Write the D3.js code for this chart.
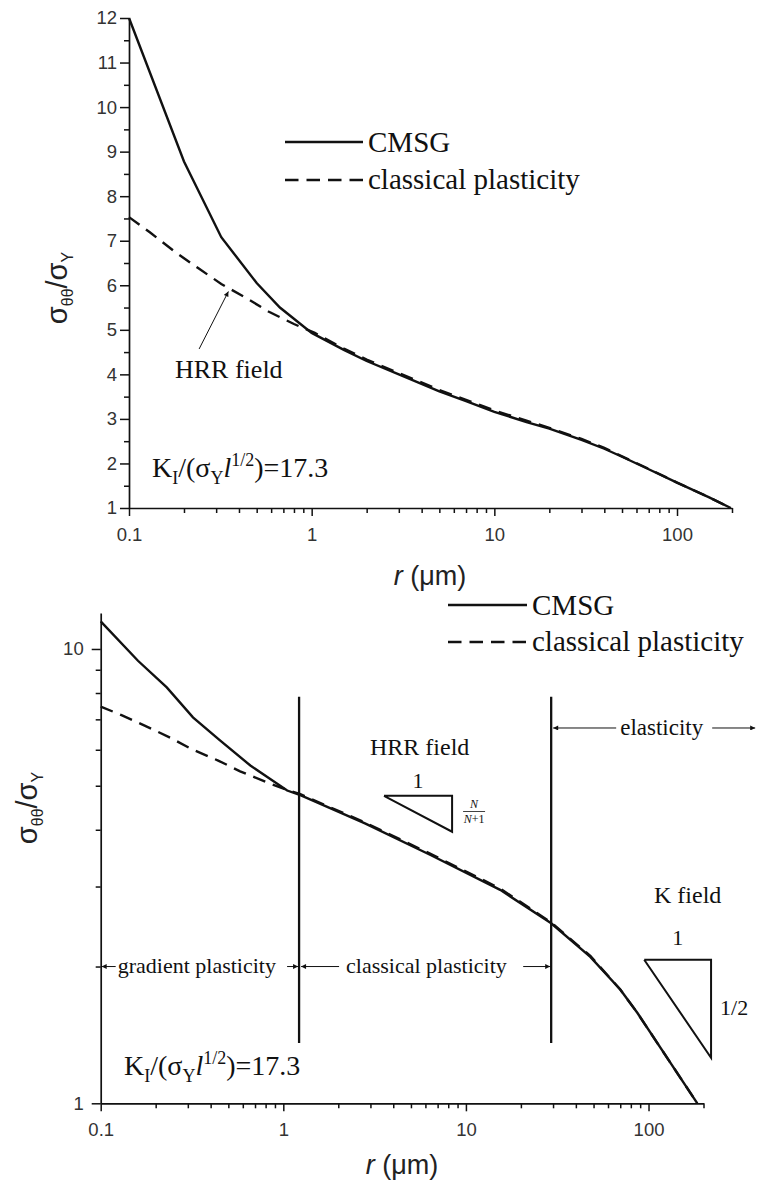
<!DOCTYPE html>
<html>
<head>
<meta charset="utf-8">
<script src="https://cdn.jsdelivr.net/npm/d3@7"></script>
<style>
  html, body { margin: 0; padding: 0; background: #fff; }
  svg { display: block; }
  .tick text { font-family: "Liberation Sans", Arial, sans-serif; font-size: 18.5px; fill: #333; }
  .serif { font-family: "Liberation Serif", "Times New Roman", serif; fill: #111; }
</style>
</head>
<body>
<svg id="chart" width="757" height="1187"></svg>
<script>
// ---- Upper panel: linear stress axis ----
const topCmsgR   = [0.1, 0.2, 0.32, 0.5, 0.67, 1, 1.5, 2, 3, 5, 7, 10, 15, 20, 30, 40, 50, 70, 100, 150, 197];
const topCmsg    = [12.0, 8.78, 7.08, 6.05, 5.5, 4.93, 4.55, 4.3, 4.0, 3.62, 3.4, 3.16, 2.93, 2.78, 2.53, 2.33, 2.15, 1.87, 1.57, 1.24, 1.0];
const topClassR  = [0.1, 0.13, 0.18, 0.24, 0.32, 0.44, 0.58, 0.8, 1.04, 1.5, 2, 3, 5, 7, 10, 15, 20, 30, 40, 50, 70, 100, 150, 197];
const topClass   = [7.53, 7.19, 6.74, 6.38, 6.03, 5.71, 5.41, 5.13, 4.93, 4.58, 4.33, 4.03, 3.65, 3.43, 3.19, 2.96, 2.8, 2.55, 2.35, 2.16, 1.88, 1.57, 1.24, 1.0];

// ---- Lower panel: log-log ----
const botCmsgR   = [0.1, 0.16, 0.23, 0.32, 0.45, 0.66, 1.05, 1.24, 2.8, 6.4, 15.4, 29.3, 48, 70, 87, 185];
const botCmsg    = [11.5, 9.42, 8.23, 7.07, 6.29, 5.54, 4.88, 4.77, 4.13, 3.52, 2.95, 2.49, 2.1, 1.78, 1.58, 1.0];
const botClassR  = [0.1, 0.13, 0.18, 0.24, 0.32, 0.44, 0.58, 0.8, 1.04, 1.24, 2.8, 6.4, 15.4, 29.3, 48, 70, 87, 185];
const botClass   = [7.47, 7.15, 6.74, 6.38, 6.0, 5.68, 5.38, 5.1, 4.9, 4.79, 4.15, 3.54, 2.97, 2.5, 2.11, 1.78, 1.58, 1.0];

// region boundaries (μm) and the stress span of the boundary lines
const zoneBounds = [1.22, 29.3];
const zoneLineSpan = [1.357, 7.85];

const xMajor = [0.1, 1, 10, 100];
const xMajorLabels = ["0.1", "1", "10", "100"];
const xMinor = [0.2,0.3,0.4,0.5,0.6,0.7,0.8,0.9, 2,3,4,5,6,7,8,9, 20,30,40,50,60,70,80,90, 200];
const topYMajor = [1,2,3,4,5,6,7,8,9,10,11,12];
const topYMinor = [1.5,2.5,3.5,4.5,5.5,6.5,7.5,8.5,9.5,10.5,11.5];
const botYMajor = [1, 10];
const botYMinor = [2,3,4,5,6,7,8,9];

const svg = d3.select("#chart");
const defs = svg.append("defs");
defs.append("marker")
  .attr("id", "arrow").attr("viewBox", "0 0 10 10")
  .attr("refX", 10).attr("refY", 5)
  .attr("markerWidth", 7).attr("markerHeight", 5)
  .attr("markerUnits", "userSpaceOnUse")
  .attr("orient", "auto")
  .append("path").attr("d", "M0,0 L10,5 L0,10 Z").attr("fill", "#111");

function drawAxes(g, x, y, yMajor, yMajorFmt, yMinor, yPad) {
  const x0 = x.range()[0], y0 = y.range()[0];
  g.append("g").attr("transform", `translate(0,${y0})`)
    .call(d3.axisBottom(x).tickValues(xMajor).tickSize(8).tickPadding(12)
      .tickFormat((d, i) => xMajorLabels[i]).tickSizeOuter(0));
  g.append("g").attr("transform", `translate(0,${y0})`)
    .call(d3.axisBottom(x).tickValues(xMinor).tickSize(5).tickFormat("").tickSizeOuter(0))
    .select(".domain").remove();
  g.append("g").attr("transform", `translate(${x0},0)`)
    .call(d3.axisLeft(y).tickValues(yMajor).tickSize(9).tickPadding(yPad)
      .tickFormat(yMajorFmt).tickSizeOuter(0));
  g.append("g").attr("transform", `translate(${x0},0)`)
    .call(d3.axisLeft(y).tickValues(yMinor).tickSize(5).tickFormat("").tickSizeOuter(0))
    .select(".domain").remove();
  g.selectAll(".domain").attr("stroke", "#111").attr("stroke-width", 1.7);
  g.selectAll(".tick line").attr("stroke", "#111").attr("stroke-width", 1.5);
}

function drawSeries(g, x, y, rs, vs, dashed) {
  const line = d3.line().x(d => x(d[0])).y(d => y(d[1]));
  g.append("path")
    .datum(rs.map((r, i) => [r, vs[i]]))
    .attr("d", line)
    .attr("fill", "none")
    .attr("stroke", "#111")
    .attr("stroke-width", 2.4)
    .attr("stroke-dasharray", dashed ? "13,8" : null);
}

function yLabel(g, cx, cy) {
  const t = g.append("text")
    .attr("transform", `translate(${cx},${cy}) rotate(-90)`)
    .attr("text-anchor", "middle")
    .style("font-family", "'Liberation Sans', Arial, sans-serif")
    .style("font-size", "29px").attr("fill", "#222");
  t.append("tspan").text("σ");
  t.append("tspan").attr("dy", 6).style("font-size", "16px").text("θθ");
  t.append("tspan").attr("dy", -6).text("/σ");
  t.append("tspan").attr("dy", 6).style("font-size", "16px").text("Y");
}

function xLabel(g, cx, by) {
  const t = g.append("text").attr("x", cx).attr("y", by)
    .attr("text-anchor", "middle")
    .style("font-family", "'Liberation Sans', Arial, sans-serif")
    .style("font-size", "27px").attr("fill", "#222");
  t.append("tspan").style("font-style", "italic").text("r");
  t.append("tspan").text(" (μm)");
}

function kLabel(g, x0, by) {
  const t = g.append("text").attr("class", "serif").attr("x", x0).attr("y", by)
    .style("font-size", "28px");
  t.append("tspan").text("K");
  t.append("tspan").attr("dy", 7).style("font-size", "18px").text("I");
  t.append("tspan").attr("dy", -7).text("/(σ");
  t.append("tspan").attr("dy", 7).style("font-size", "18px").text("Y");
  t.append("tspan").attr("dy", -7).style("font-style", "italic").text("l");
  t.append("tspan").attr("dy", -11).style("font-size", "18px").text("1/2");
  t.append("tspan").attr("dy", 11).text(")=17.3");
}

function legend(g, x1, x2, yS, yD, tx) {
  g.append("line").attr("x1", x1).attr("x2", x2).attr("y1", yS).attr("y2", yS)
    .attr("stroke", "#111").attr("stroke-width", 2.4);
  g.append("line").attr("x1", x1).attr("x2", x2).attr("y1", yD).attr("y2", yD)
    .attr("stroke", "#111").attr("stroke-width", 2.4).attr("stroke-dasharray", "13.5,8");
  g.append("text").attr("class", "serif").attr("x", tx).attr("y", yS + 10)
    .style("font-size", "29px").text("CMSG");
  g.append("text").attr("class", "serif").attr("x", tx).attr("y", yD + 9)
    .style("font-size", "29px").text("classical plasticity");
}

function arrow(g, xa, ya, xb, yb) {
  g.append("line").attr("x1", xa).attr("y1", ya).attr("x2", xb).attr("y2", yb)
    .attr("stroke", "#111").attr("stroke-width", 1)
    .attr("marker-end", "url(#arrow)");
}

// ================= Upper panel =================
const xTop = d3.scaleLog().domain([0.1, 200]).range([129, 732]);
const yTop = d3.scaleLinear().domain([1, 12]).range([508, 18]);
const gTop = svg.append("g");

drawAxes(gTop, xTop, yTop, topYMajor, d3.format("d"), topYMinor, 3);
drawSeries(gTop, xTop, yTop, topClassR, topClass, true);
drawSeries(gTop, xTop, yTop, topCmsgR, topCmsg, false);
yLabel(gTop, 67, 288);
xLabel(gTop, 430, 585);
legend(gTop, 285, 363, 142, 180, 368);

gTop.append("text").attr("class", "serif").attr("x", 175).attr("y", 378)
  .style("font-size", "26px").text("HRR field");
arrow(gTop, xTop(0.242), yTop(4.57), xTop(0.35), yTop(5.86));
kLabel(gTop, 152, 477);

// ================= Lower panel =================
const xBot = d3.scaleLog().domain([0.1, 200]).range([100.7, 703.5]);
const yBot = d3.scaleLog().domain([1, 12]).range([1103.3, 613]);
const gBot = svg.append("g");

drawAxes(gBot, xBot, yBot, botYMajor, d3.format("d"), botYMinor, 8);
drawSeries(gBot, xBot, yBot, botClassR, botClass, true);
drawSeries(gBot, xBot, yBot, botCmsgR, botCmsg, false);
yLabel(gBot, 37, 808);
xLabel(gBot, 402, 1174);
legend(gBot, 448, 527, 605, 642, 532);

// region boundaries
zoneBounds.forEach(b => {
  gBot.append("line")
    .attr("x1", xBot(b)).attr("x2", xBot(b))
    .attr("y1", yBot(zoneLineSpan[0])).attr("y2", yBot(zoneLineSpan[1]))
    .attr("stroke", "#111").attr("stroke-width", 2.3);
});

const xa0 = xBot(0.1), xa1 = xBot(zoneBounds[0]), xa2 = xBot(zoneBounds[1]);
const rowY = yBot(2.0), elY = yBot(6.7);
arrow(gBot, xa0 + 15, rowY, xa0 + 1, rowY);
gBot.append("text").attr("class", "serif").attr("x", xa0 + 17).attr("y", rowY + 6)
  .style("font-size", "22px").text("gradient plasticity");
arrow(gBot, xa1 - 12, rowY, xa1 - 1, rowY);
arrow(gBot, xa1 + 40, rowY, xa1 + 2, rowY);
gBot.append("text").attr("class", "serif").attr("x", xa1 + 47).attr("y", rowY + 6)
  .style("font-size", "22px").text("classical plasticity");
arrow(gBot, xa2 - 28, rowY, xa2 - 1, rowY);
arrow(gBot, xa2 + 65, elY, xa2 + 2, elY);
gBot.append("text").attr("class", "serif").attr("x", xa2 + 69).attr("y", elY + 7)
  .style("font-size", "23px").text("elasticity");
arrow(gBot, xa2 + 161, elY, xa2 + 204, elY);

// HRR slope triangle
const hrr = [[3.56, 4.75], [8.4, 4.75], [8.4, 3.96]];
gBot.append("path")
  .attr("d", d3.line()(hrr.concat([hrr[0]]).map(p => [xBot(p[0]), yBot(p[1])])))
  .attr("fill", "none").attr("stroke", "#111").attr("stroke-width", 2);
gBot.append("text").attr("class", "serif").attr("x", 370).attr("y", 755)
  .style("font-size", "24px").text("HRR field");
gBot.append("text").attr("class", "serif").attr("text-anchor", "middle")
  .attr("x", (xBot(hrr[0][0]) + xBot(hrr[1][0])) / 2).attr("y", 788)
  .style("font-size", "22px").text("1");
const fx = xBot(hrr[1][0]) + 22;
gBot.append("text").attr("class", "serif").attr("text-anchor", "middle")
  .attr("x", fx).attr("y", 808).style("font-size", "12px").style("font-style", "italic").text("N");
gBot.append("line").attr("x1", fx - 11).attr("x2", fx + 11).attr("y1", 811.5).attr("y2", 811.5)
  .attr("stroke", "#111").attr("stroke-width", 0.8);
const fd = gBot.append("text").attr("class", "serif").attr("text-anchor", "middle")
  .attr("x", fx).attr("y", 823).style("font-size", "12px");
fd.append("tspan").style("font-style", "italic").text("N");
fd.append("tspan").text("+1");

// K-field slope triangle
const kf = [[94.7, 2.07], [220, 2.07], [220, 1.26]];
gBot.append("path")
  .attr("d", d3.line()(kf.concat([kf[0]]).map(p => [xBot(p[0]), yBot(p[1])])))
  .attr("fill", "none").attr("stroke", "#111").attr("stroke-width", 2);
gBot.append("text").attr("class", "serif").attr("x", 654).attr("y", 903)
  .style("font-size", "24px").text("K field");
gBot.append("text").attr("class", "serif").attr("text-anchor", "middle")
  .attr("x", (xBot(kf[0][0]) + xBot(kf[1][0])) / 2).attr("y", 945)
  .style("font-size", "22px").text("1");
gBot.append("text").attr("class", "serif").attr("x", xBot(kf[1][0]) + 9).attr("y", 1015)
  .style("font-size", "22px").text("1/2");

kLabel(gBot, 124, 1075);
</script>
</body>
</html>
